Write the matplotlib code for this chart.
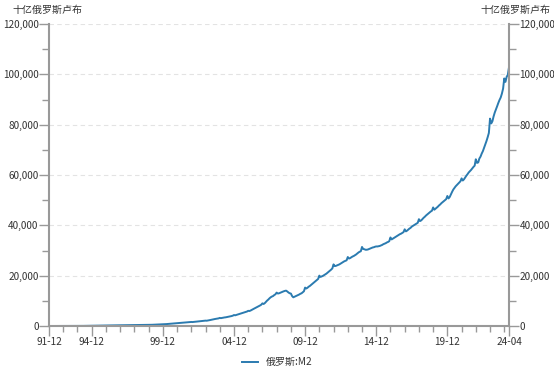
import matplotlib
matplotlib.use("Agg")
import matplotlib.pyplot as plt
import matplotlib.dates as mdates
from matplotlib.ticker import FuncFormatter, MultipleLocator
import pandas as pd

plt.rcParams['font.family'] = ['Noto Sans CJK SC', 'DejaVu Sans']

# Russia M2, billion rubles, monthly from 1991-12 to 2024-04
m2_1990s = [
    0.96,
    1.1, 1.3, 1.5, 1.7, 1.9, 2.2, 2.6, 3.0, 3.5, 4.0, 4.6, 5.3,
    6.0, 7.0, 8.2, 9.5, 11.0, 12.8, 15.0, 17.5, 20.5, 24.0, 28.0, 32.6,
    34, 37, 40.5, 44, 48, 53, 58, 63.5, 70, 78, 87, 97.8,
    100, 107, 115, 125, 136, 148, 160, 172, 185, 195, 205, 220.8,
    218, 222, 228, 234, 240, 248, 254, 258, 262, 268, 276, 295.2,
    290, 296, 305, 315, 325, 337, 345, 350, 356, 362, 368, 384.5,
    375, 378, 382, 386, 387, 386, 385, 380, 395, 410, 425, 448.3,
    450, 465, 485, 505, 525, 550, 575, 600, 620, 640, 665, 704.7,
]
m2_2000s = [
    690, 720, 760, 800, 840, 880, 920, 960, 1000, 1040, 1080, 1144,
    1120, 1160, 1200, 1250, 1300, 1340, 1380, 1420, 1460, 1500, 1540, 1603,
    1570, 1620, 1680, 1720, 1760, 1800, 1850, 1900, 1950, 2000, 2050, 2135,
    2100, 2180, 2270, 2370, 2480, 2600, 2700, 2780, 2850, 2930, 3030, 3213,
    3120, 3200, 3300, 3400, 3450, 3550, 3650, 3750, 3850, 3950, 4100, 4363,
    4250, 4400, 4550, 4700, 4850, 5000, 5150, 5300, 5450, 5600, 5750, 6032,
    5950, 6150, 6400, 6650, 6900, 7150, 7400, 7650, 7900, 8150, 8450, 8996,
    8750, 9100, 9600, 10100, 10500, 11000, 11400, 11700, 11900, 12300, 12600, 13272,
    12900, 13000, 13200, 13400, 13600, 13800, 13950, 14050, 13700, 13300, 13000, 12900,
    11900, 11400, 11600, 11800, 12000, 12300, 12500, 12800, 13000, 13400, 13800, 15268,
]
m2_2010s = [
    14900, 15200, 15600, 15900, 16300, 16700, 17100, 17500, 17900, 18300, 18700, 20012,
    19500, 19700, 19900, 20200, 20500, 20800, 21200, 21600, 22000, 22400, 22900, 24483,
    23800, 23900, 24100, 24300, 24500, 24800, 25100, 25400, 25700, 25900, 26100, 27405,
    26800, 27000, 27300, 27600, 27800, 28100, 28400, 28800, 29200, 29500, 29700, 31405,
    30600, 30500, 30300, 30300, 30400, 30600, 30800, 31000, 31200, 31300, 31500, 31616,
    31600, 31700, 31800, 32000, 32200, 32500, 32700, 32900, 33200, 33400, 33700, 35180,
    34400, 34700, 35000, 35300, 35600, 35900, 36200, 36500, 36700, 37000, 37300, 38418,
    37600, 37900, 38300, 38700, 39000, 39500, 39800, 40100, 40400, 40700, 41000, 42442,
    41700, 42000, 42500, 43000, 43400, 43900, 44300, 44700, 45100, 45500, 45800, 47109,
    46200, 46600, 47000, 47400, 47900, 48300, 48800, 49200, 49600, 50000, 50400, 51660,
]
m2_2020s = [
    50700, 51300, 52300, 53300, 54200, 54900, 55500, 56000, 56500, 57000, 57500, 58651,
    57800, 58300, 59000, 59700, 60300, 61000, 61500, 62000, 62600, 63200, 63700, 66253,
    64800, 65000, 66500, 67300, 68500, 69500, 70800, 72200, 73500, 75000, 76700, 82412,
    80500, 81400, 83200, 84800, 86000, 87300, 88600, 89800, 90800, 92300, 94300, 98366,
    97000, 99000, 99800, 102800,
]

m2 = m2_1990s + m2_2000s + m2_2010s + m2_2020s
dates = pd.date_range('1991-12-01', periods=len(m2), freq='MS')

label_dates = ['1991-12-01', '1994-12-01', '1999-12-01', '2004-12-01',
               '2009-12-01', '2014-12-01', '2019-12-01', '2024-04-01']
unit = '十亿俄罗斯卢布'
series_name = '俄罗斯:M2'

fig = plt.figure(figsize=(5.54, 3.69), dpi=100)
ax = fig.add_axes([49 / 554, 1 - 326 / 369, 460 / 554, 302 / 369])

ax.plot(dates, m2, color='#2b7bb0', lw=1.4, label=series_name)

ax.set_xlim(dates[0], dates[-1])
ax.set_ylim(0, 120000)

axis_col = '#999999'
text_col = '#333333'
for side in ['left', 'right', 'bottom']:
    ax.spines[side].set_color(axis_col)
    ax.spines[side].set_linewidth(1.5)
ax.spines['top'].set_visible(False)

ax.yaxis.set_major_locator(MultipleLocator(20000))
ax.yaxis.set_minor_locator(MultipleLocator(10000))
ax.yaxis.set_major_formatter(FuncFormatter(lambda v, p: f'{v:,.0f}'))
ax.grid(axis='y', which='major', color='#e3e3e3', ls=(0, (4, 3)), lw=0.8)

ax.set_xticks(pd.to_datetime(label_dates))
ax.xaxis.set_major_formatter(mdates.DateFormatter('%y-%m'))
ax.xaxis.set_minor_locator(mdates.MonthLocator(bymonth=12))

ax.tick_params(axis='both', which='both', colors=axis_col, labelcolor=text_col,
               labelsize=7.2)
ax.tick_params(axis='y', which='major', length=7, width=1, pad=0.5,
               right=True, labelright=True)
ax.tick_params(axis='y', which='minor', length=5, width=1, right=True)
ax.tick_params(axis='x', which='major', length=7, width=1, pad=1)
ax.tick_params(axis='x', which='minor', length=4, width=1)

fig.text(12 / 554, 1 - 10 / 369, unit, fontsize=7.2, color=text_col,
         ha='left', va='center')
fig.text(550 / 554, 1 - 10 / 369, unit, fontsize=7.2, color=text_col,
         ha='right', va='center')

fig.legend(loc='center', bbox_to_anchor=(277 / 554, 1 - 362 / 369), frameon=False,
           fontsize=7.2, handlelength=1.6, labelcolor=text_col)

fig.savefig('out.png', dpi=100)
